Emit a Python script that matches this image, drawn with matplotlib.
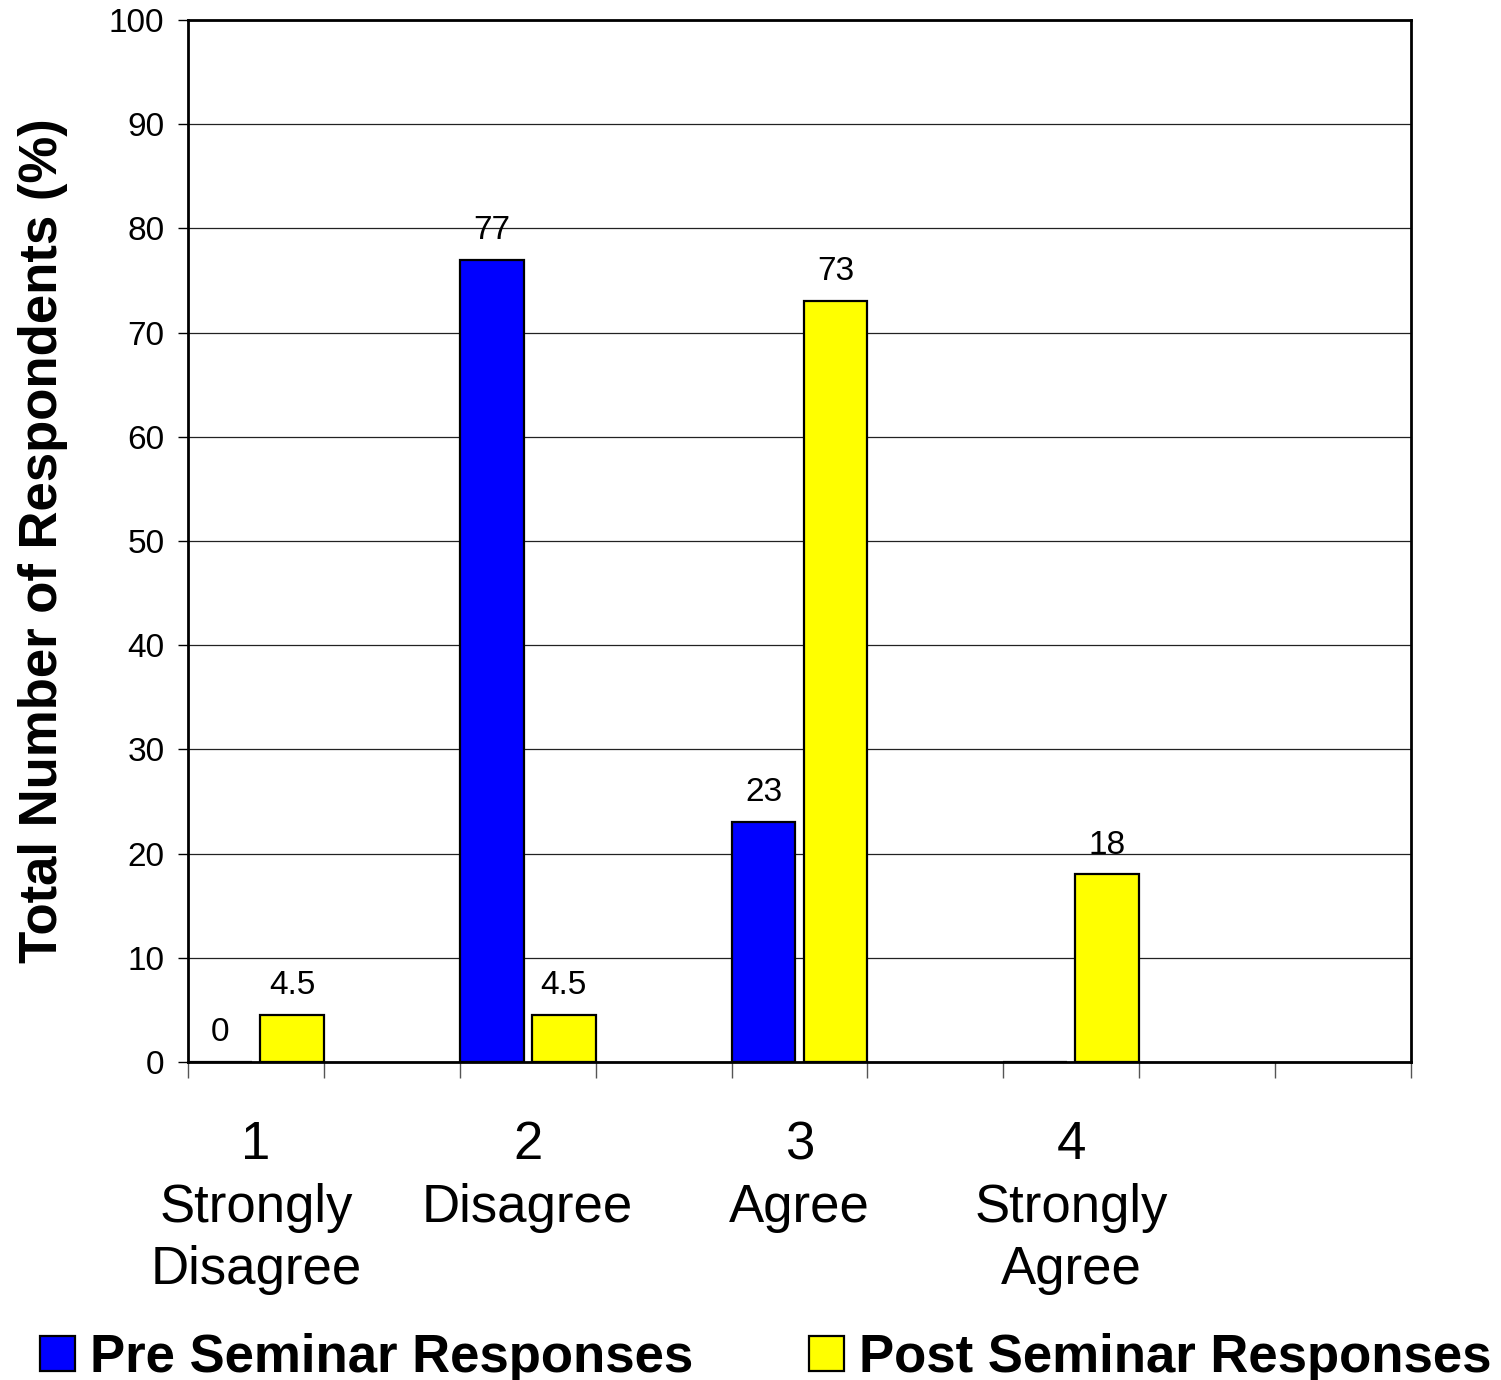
import numpy as np
import matplotlib
matplotlib.use("Agg")
import matplotlib.pyplot as plt

# Survey responses (% of respondents) for each agreement level
levels = ["1\nStrongly\nDisagree", "2\nDisagree", "3\nAgree", "4\nStrongly\nAgree"]
pre_values = [0, 77, 23, np.nan]
post_values = [4.5, 4.5, 73, 18]
series_names = ["Pre Seminar Responses", "Post Seminar Responses"]
y_ticks = list(range(0, 101, 10))

PRE_COLOR = "#0000FF"
POST_COLOR = "#FFFF00"

plt.rcParams["font.family"] = ["Liberation Sans", "DejaVu Sans"]

fig = plt.figure(figsize=(15.01, 13.8), dpi=100)
ax = fig.add_axes([188 / 1501, 318 / 1380, (1411 - 188) / 1501, (1062 - 20) / 1380])

# Category axis with one empty slot between levels, plus two trailing slots
n_slots = 9
slot_pos = np.arange(len(levels)) * 2
bar_w = 0.47

pre_bars = ax.bar(slot_pos, np.nan_to_num(pre_values), width=bar_w, align="edge",
                  color=PRE_COLOR, edgecolor="black", linewidth=1.6, zorder=3,
                  label=series_names[0])
post_bars = ax.bar(slot_pos + 1 - bar_w, post_values, width=bar_w, align="edge",
                   color=POST_COLOR, edgecolor="black", linewidth=1.6, zorder=3,
                   label=series_names[1])

# Value labels above each bar
for bars, vals in ((pre_bars, pre_values), (post_bars, post_values)):
    for rect, v in zip(bars, vals):
        if np.isnan(v):
            continue
        txt = f"{v:g}"
        ax.annotate(txt, (rect.get_x() + rect.get_width() / 2, v),
                    xytext=(0, 10), textcoords="offset points",
                    ha="center", va="bottom", fontsize=24)

ax.set_xlim(0, n_slots)
ax.set_ylim(0, 100)
ax.set_yticks(y_ticks)
ax.set_xticks(np.arange(n_slots + 1))
ax.set_xticklabels([])
ax.tick_params(axis="y", direction="out", length=7, width=1.0, labelsize=24, pad=10)
ax.tick_params(axis="x", direction="out", length=11.5, width=1.0, color="#555555")

ax.grid(axis="y", color="#222222", linewidth=0.9, zorder=0)
ax.set_axisbelow(True)
for sp in ax.spines.values():
    sp.set_linewidth(2.0)
    sp.set_color("black")

# Level names under each category group
for p, lab in zip(slot_pos, levels):
    ax.annotate(lab, (p + 0.5, 0), xycoords=("data", "axes fraction"),
                xytext=(0, -42), textcoords="offset points",
                ha="center", va="top", fontsize=38, linespacing=1.32)

ax.set_ylabel("Total Number of Respondents (%)", fontsize=38, fontweight="bold")
ax.yaxis.set_label_coords(-0.098, 0.5)

fig.legend(handles=[pre_bars, post_bars], loc="center left",
           bbox_to_anchor=(40 / 1501, 22 / 1380), ncol=2, frameon=False,
           prop={"weight": "bold", "size": 38}, handlelength=0.66,
           handleheight=0.66, handletextpad=0.28, columnspacing=2.2,
           borderpad=0, borderaxespad=0)

fig.savefig("out.png", dpi=100)
